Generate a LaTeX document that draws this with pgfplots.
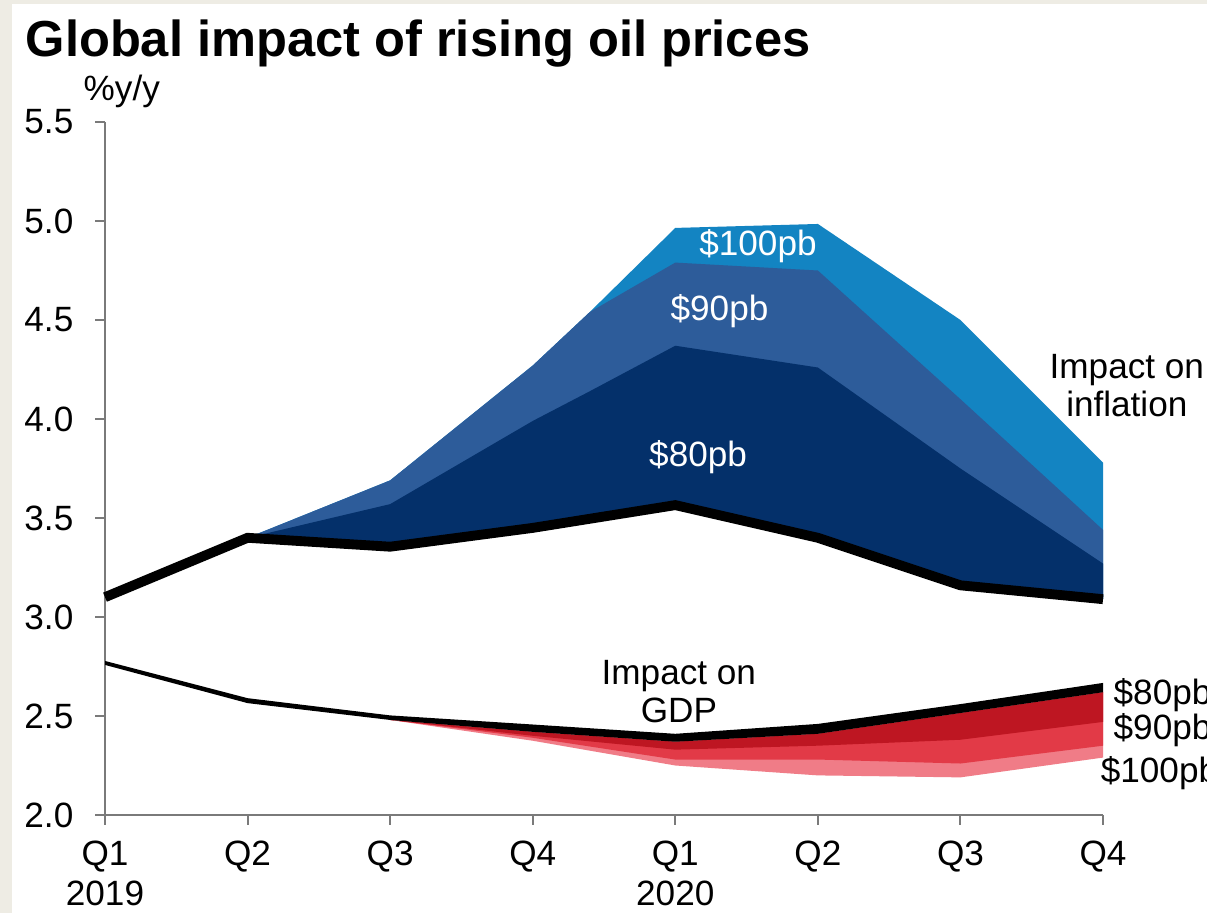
\documentclass[border=0pt]{standalone}
\usepackage{fontspec}
\setmainfont{Liberation Sans}
\usepackage{pgfplots}
\pgfplotsset{compat=1.18}
\definecolor{bgframe}{HTML}{EEECE4}
\definecolor{b100}{HTML}{1384C2}
\definecolor{b90}{HTML}{2D5C9A}
\definecolor{b80}{HTML}{04306A}
\definecolor{r80}{HTML}{BE1622}
\definecolor{r90}{HTML}{E23A47}
\definecolor{r100}{HTML}{F07C87}
\definecolor{axgray}{HTML}{7A7A7A}
\begin{document}
\begin{tikzpicture}
\fill[bgframe] (-10.5mm,-9.8mm) rectangle (110.2mm,81.5mm);
\fill[white] (-9.3mm,-9.8mm) rectangle (110.2mm,81.1mm);
\begin{axis}[
  at={(0,0)}, anchor=south west,
  scale only axis, width=99.8mm, height=69.3mm,
  xmin=0, xmax=7, ymin=2, ymax=5.5,
  clip=false,
  axis lines=left,
  axis line style={-, axgray, line width=0.6pt},
  tick align=outside, major tick length=1mm,
  tick style={axgray, line width=0.6pt},
  xtick={0,1,2,3,4,5,6,7},
  xticklabels={{Q1\\2019},Q2,Q3,Q4,{Q1\\2020},Q2,Q3,Q4},
  xticklabel style={align=center, font=\fontsize{10}{11.5}\selectfont, inner sep=0pt, anchor=north, yshift=-1.5mm},
  ytick={2,2.5,3,3.5,4,4.5,5,5.5},
  yticklabel style={/pgf/number format/.cd, fixed, fixed zerofill, precision=1, /tikz/.cd, font=\fontsize{10}{12}\selectfont, inner sep=0pt, anchor=east, xshift=-2.1mm},
  /pgf/number format/assume math mode=true,
]
% inflation layers
\addplot[fill=b100, draw=none] coordinates {(1,3.40) (2,3.69) (3,4.27) (3.4,4.54) (4,4.965) (5,4.985) (6,4.50) (7,3.78)
  (7,3.09) (6,3.16) (5,3.40) (4,3.565) (3.4,3.50) (3,3.45) (2,3.355) (1,3.40)} -- cycle;
\addplot[fill=b90, draw=none] coordinates {(1,3.40) (2,3.69) (3,4.27) (3.4,4.54) (4,4.79) (5,4.75) (6,4.10) (7,3.44)
  (7,3.09) (6,3.16) (5,3.40) (4,3.565) (3.4,3.50) (3,3.45) (2,3.355) (1,3.40)} -- cycle;
\addplot[fill=b80, draw=none] coordinates {(1,3.40) (2,3.57) (3,3.99) (3.4,4.14) (4,4.37) (5,4.26) (6,3.75) (7,3.27)
  (7,3.09) (6,3.16) (5,3.40) (4,3.565) (3.4,3.50) (3,3.45) (2,3.355) (1,3.40)} -- cycle;
\addplot[black, line width=2.8pt] coordinates {(0,3.10) (1,3.40) (2,3.355) (3,3.45) (4,3.565) (5,3.40) (6,3.16) (7,3.09)};
% GDP layers
\addplot[fill=r100, draw=none] coordinates {(2,2.48) (3,2.42) (4,2.37) (5,2.41) (6,2.515) (7,2.62)
  (7,2.29) (6,2.19) (5,2.20) (4,2.25) (3,2.375)} -- cycle;
\addplot[fill=r90, draw=none] coordinates {(2,2.48) (3,2.42) (4,2.37) (5,2.41) (6,2.515) (7,2.62)
  (7,2.35) (6,2.26) (5,2.28) (4,2.28) (3,2.39)} -- cycle;
\addplot[fill=r80, draw=none] coordinates {(2,2.48) (3,2.42) (4,2.37) (5,2.41) (6,2.515) (7,2.62)
  (7,2.47) (6,2.38) (5,2.35) (4,2.33) (3,2.40)} -- cycle;
\addplot[fill=black, draw=none] coordinates {(0,2.778) (1,2.59) (2,2.503) (3,2.457) (4,2.41) (5,2.46) (6,2.56) (7,2.667)
  (7,2.62) (6,2.515) (5,2.41) (4,2.37) (3,2.42) (2,2.48) (1,2.565) (0,2.758)} -- cycle;
% labels
\begin{scope}[every node/.style={font=\fontsize{10}{12}\selectfont, inner sep=0pt}]
\node[anchor=base, text=white] at (axis cs:4.58,4.828) {\$100pb};
\node[anchor=base, text=white] at (axis cs:4.31,4.495) {\$90pb};
\node[anchor=base, text=white] at (axis cs:4.16,3.758) {\$80pb};
\node[anchor=base] at (axis cs:7.167,4.207) {Impact on};
\node[anchor=base] at (axis cs:7.167,4.015) {inflation};
\node[anchor=base] at (axis cs:4.025,2.657) {Impact on};
\node[anchor=base] at (axis cs:4.025,2.465) {GDP};
\node[anchor=base west] at (axis cs:7.07,2.556) {\$80pb};
\node[anchor=base west] at (axis cs:7.07,2.379) {\$90pb};
\node[anchor=base west] at (axis cs:6.98,2.162) {\$100pb};
\end{scope}
\end{axis}
\node[anchor=base west, inner sep=0pt, font=\fontsize{14.4}{17}\selectfont\bfseries] at (-8.0mm,75.8mm) {Global impact of rising oil prices};
\node[anchor=base west, inner sep=0pt, font=\fontsize{10}{12}\selectfont] at (-2.2mm,71.4mm) {\%y/y};
\pgfresetboundingbox
\path[use as bounding box] (-10.5mm,-9.8mm) rectangle (110.2mm,81.5mm);
\end{tikzpicture}
\end{document}
